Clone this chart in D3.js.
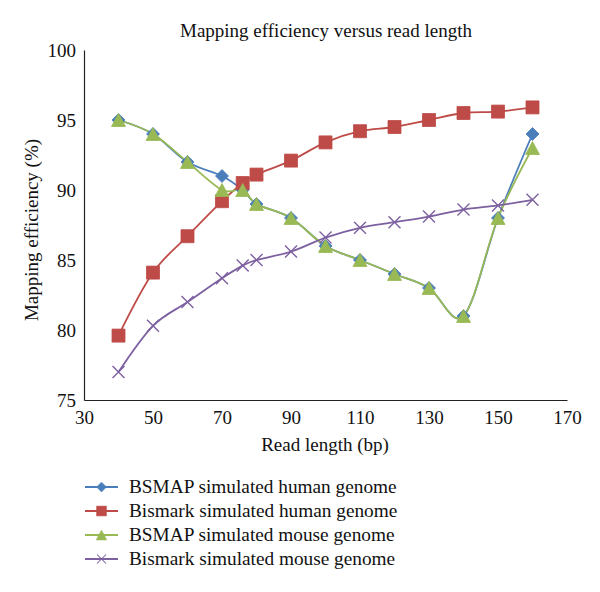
<!DOCTYPE html>
<html>
<head>
<meta charset="utf-8">
<script src="https://cdn.jsdelivr.net/npm/d3@7"></script>
<style>
  body { margin: 0; background: #fff; }
  svg { display: block; }
  text { font-family: "Liberation Serif", "DejaVu Serif", serif; fill: #111; }
</style>
</head>
<body>
<svg id="chart" width="600" height="592"></svg>
<script>
const readLengths = [40, 50, 60, 70, 76, 80, 90, 100, 110, 120, 130, 140, 150, 160];
const bsmapHuman   = [95, 94, 92, 91, 90, 89, 88, 86, 85, 84, 83, 81, 88, 94];
const bismarkHuman = [79.6, 84.1, 86.7, 89.2, 90.5, 91.1, 92.1, 93.4, 94.2, 94.5, 95.0, 95.5, 95.6, 95.9];
const bsmapMouse   = [95, 94, 92, 90, 90, 89, 88, 86, 85, 84, 83, 81, 88, 93];
const bismarkMouse = [77.0, 80.3, 82.0, 83.7, 84.6, 85.0, 85.6, 86.6, 87.3, 87.7, 88.1, 88.6, 88.9, 89.3];
const seriesNames = ["BSMAP simulated human genome", "Bismark simulated human genome", "BSMAP simulated mouse genome", "Bismark simulated mouse genome"];
const seriesColors = ["#4A7EBB", "#BE4B48", "#98B954", "#7D60A0"];
const seriesMarkers = ["diamond", "square", "triangle", "cross"];
const xTicks = [30, 50, 70, 90, 110, 130, 150, 170];
const yTicks = [75, 80, 85, 90, 95, 100];

const series = [bsmapHuman, bismarkHuman, bsmapMouse, bismarkMouse].map((vals, i) => ({
  name: seriesNames[i], color: seriesColors[i], marker: seriesMarkers[i],
  points: readLengths.map((x, j) => ({x, y: vals[j]}))
}));

const svg = d3.select("#chart");
const mLeft = 84, mRight = 567, mTop = 50, mBottom = 400;
const x = d3.scaleLinear().domain([30, 170]).range([mLeft, mRight]);
const y = d3.scaleLinear().domain([75, 100]).range([mBottom, mTop]);

function markerPath(type, cx, cy) {
  if (type === "diamond") { const r = 6.5; return `M${cx},${cy-r}L${cx+r},${cy}L${cx},${cy+r}L${cx-r},${cy}Z`; }
  if (type === "square") { const r = 6.5; return `M${cx-r},${cy-r}h${2*r}v${2*r}h${-2*r}Z`; }
  if (type === "triangle") { const w = 7, h = 6.5; return `M${cx},${cy-h}L${cx+w},${cy+h}L${cx-w},${cy+h}Z`; }
  const r = 6; return `M${cx-r},${cy-r}L${cx+r},${cy+r}M${cx-r},${cy+r}L${cx+r},${cy-r}`;
}

// title
svg.append("text").attr("x", 326).attr("y", 37).attr("text-anchor", "middle")
  .style("font-size", "19px").text("Mapping efficiency versus read length");

// axes
const xAxis = svg.append("g").attr("transform", `translate(0,${mBottom})`)
  .call(d3.axisBottom(x).tickValues(xTicks).tickSize(0).tickPadding(8).tickFormat(d3.format("d")));
const yAxis = svg.append("g").attr("transform", `translate(${mLeft},0)`)
  .call(d3.axisLeft(y).tickValues(yTicks).tickSize(0).tickPadding(8).tickFormat(d3.format("d")));
[xAxis, yAxis].forEach(g => {
  g.select(".domain").attr("stroke", "#222").attr("stroke-width", 1.2);
  g.selectAll("text").style("font-size", "19px").style("font-family", '"Liberation Serif", serif').attr("fill", "#111");
});
xAxis.selectAll("text").attr("dy", "0.85em");

// axis labels
svg.append("text").attr("x", 325).attr("y", 451).attr("text-anchor", "middle")
  .style("font-size", "19px").text("Read length (bp)");
svg.append("text").attr("transform", `translate(38,${(mTop + mBottom) / 2 + 5}) rotate(-90)`)
  .attr("text-anchor", "middle").style("font-size", "19px").text("Mapping efficiency (%)");

// lines
const line = d3.line().x(d => x(d.x)).y(d => y(d.y)).curve(d3.curveCatmullRom.alpha(0));
series.forEach(s => {
  svg.append("path").datum(s.points).attr("d", line)
    .attr("fill", "none").attr("stroke", s.color).attr("stroke-width", 1.8);
});
series.forEach(s => {
  svg.append("g").selectAll("path").data(s.points).join("path")
    .attr("d", d => markerPath(s.marker, x(d.x), y(d.y)))
    .attr("fill", s.marker === "cross" ? "none" : s.color)
    .attr("stroke", s.color).attr("stroke-width", s.marker === "cross" ? 1.4 : 0.8);
});

// legend
const lg = svg.append("g");
series.forEach((s, i) => {
  const ly = 487 + i * 24;
  lg.append("line").attr("x1", 85).attr("x2", 118).attr("y1", ly).attr("y2", ly)
    .attr("stroke", s.color).attr("stroke-width", 1.8);
  const m = s.marker;
  lg.append("path").attr("d", markerPath(m, 101.5, ly))
    .attr("transform", `translate(${101.5 * 0.25},${ly * 0.25}) scale(0.75)`)
    .attr("fill", m === "cross" ? "none" : s.color).attr("stroke", s.color)
    .attr("stroke-width", m === "cross" ? 1.4 : 0.8);
  lg.append("text").attr("x", 129).attr("y", ly).attr("dy", "0.33em")
    .style("font-size", "19.3px").text(s.name);
});
</script>
</body>
</html>
